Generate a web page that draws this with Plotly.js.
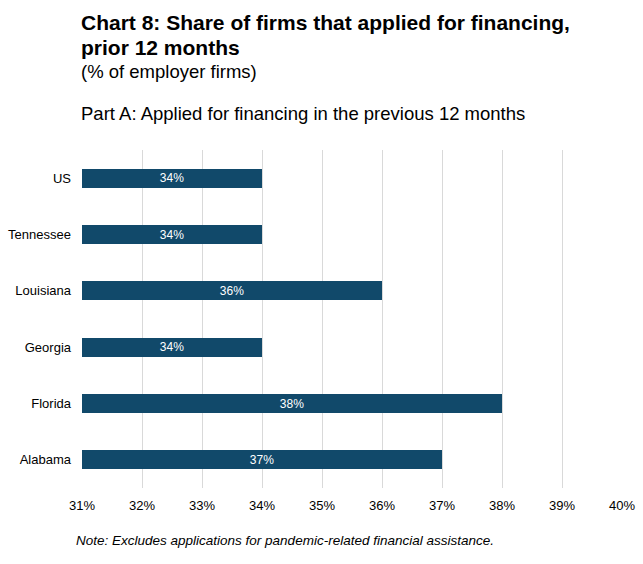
<!DOCTYPE html>
<html>
<head>
<meta charset="utf-8">
<script src="https://cdn.plot.ly/plotly-3.0.1.min.js"></script>
<style>
  html, body { margin: 0; padding: 0; background: #fff; }
  #chart { width: 643px; height: 564px; }
</style>
</head>
<body>
<div id="chart"></div>
<script>
// Share of employer firms that applied for financing in the previous 12 months
const states = ["Alabama", "Florida", "Georgia", "Louisiana", "Tennessee", "US"];
const shares = [37, 38, 34, 36, 34, 34];
const axisStart = 31;
const tickVals = [31, 32, 33, 34, 35, 36, 37, 38, 39, 40];
const tickText = ["31%", "32%", "33%", "34%", "35%", "36%", "37%", "38%", "39%", "40%"];

const barColor = "#11496a";
const font = "Liberation Sans, Arial, sans-serif";

// Plot area in pixels, used to place the text blocks around it
const plotTop = 150, plotBottom = 488, plotLeft = 82, plotRight = 622;
const plotH = plotBottom - plotTop, plotW = plotRight - plotLeft;
const py = p => (plotBottom - p) / plotH;
const px = p => (p - plotLeft) / plotW;

// Bars run from the start of the value axis to each share
const trace = {
  type: "bar",
  orientation: "h",
  y: states,
  base: shares.map(() => axisStart),
  x: shares.map(v => v - axisStart),
  marker: { color: barColor },
  width: 0.34,
  text: shares.map(v => v + "%"),
  textposition: "inside",
  insidetextanchor: "middle",
  constraintext: "none",
  textangle: 0,
  textfont: { family: font, size: 12, color: "#ffffff" },
  hoverinfo: "skip"
};

function label(text, x, y, size) {
  return {
    text: text, xref: "paper", yref: "paper",
    x: px(x), y: py(y), xanchor: "left", yanchor: "middle",
    showarrow: false, font: { family: font, size: size, color: "#000" }
  };
}

const layout = {
  width: 643, height: 564,
  margin: { l: plotLeft, r: 643 - plotRight, t: plotTop, b: 564 - plotBottom, pad: 0 },
  paper_bgcolor: "#ffffff",
  plot_bgcolor: "#ffffff",
  showlegend: false,
  bargap: 0,
  uniformtext: { mode: false },
  xaxis: {
    range: [31, 40],
    tickvals: tickVals,
    ticktext: tickText,
    showgrid: true,
    gridcolor: "#d9d9d9",
    gridwidth: 1,
    zeroline: false,
    showline: false,
    ticks: "",
    ticklabelstandoff: 8,
    tickfont: { family: font, size: 13, color: "#000" },
    fixedrange: true
  },
  yaxis: {
    type: "category",
    categoryorder: "array",
    categoryarray: states,
    showgrid: false,
    zeroline: false,
    showline: false,
    ticks: "",
    ticklabelstandoff: 10,
    tickfont: { family: font, size: 13, color: "#000" },
    fixedrange: true
  },
  annotations: [
    label("<b>Chart 8: Share of firms that applied for financing,</b>", 79, 22, 21),
    label("<b>prior 12 months</b>", 79, 47, 21),
    label("(% of employer firms)", 79, 72, 18.5),
    label("Part A: Applied for financing in the previous 12 months", 79, 114, 18.5),
    label("<i>Note: Excludes applications for pandemic-related financial assistance.</i>", 74, 540, 13.5)
  ]
};

Plotly.newPlot("chart", [trace], layout, { staticPlot: true, displayModeBar: false });
</script>
</body>
</html>
